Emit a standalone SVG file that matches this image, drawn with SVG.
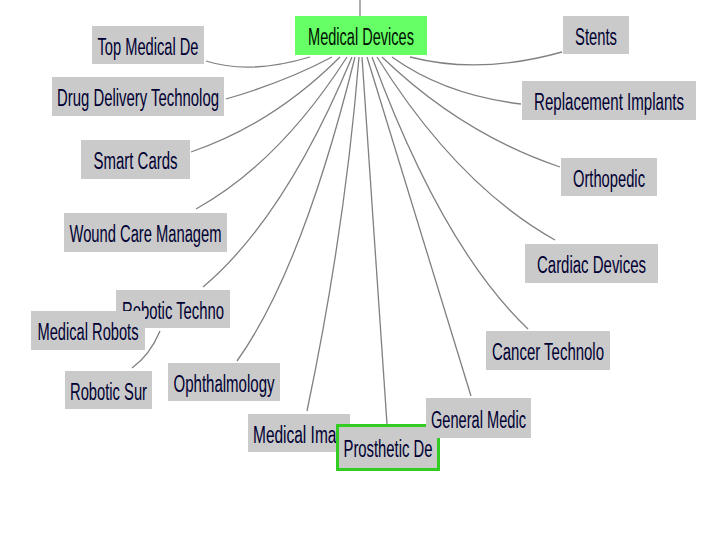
<svg xmlns="http://www.w3.org/2000/svg" width="720" height="540" viewBox="0 0 720 540">
<style>
.edge{fill:none;stroke:#808080;stroke-width:1.3}
.box{fill:#cacaca}
.root{fill:#66ff66}
.sel{fill:#cacaca;stroke:#33cc22;stroke-width:3}
.lbl{font-family:"Liberation Sans",Arial,sans-serif;font-size:23px;fill:#000033;text-anchor:middle}
</style>
<rect width="720" height="540" fill="#ffffff"/>
<g id="connectors">
<path class="edge" d="M360,0 L360,16"/>
<path class="edge" d="M310,57 Q250,75 206,61"/>
<path class="edge" d="M332,57 Q285,82 226,99"/>
<path class="edge" d="M340,57 Q273,124 191,152"/>
<path class="edge" d="M347,57 Q279,163 196,209"/>
<path class="edge" d="M352,57 Q285,218 203,287"/>
<path class="edge" d="M355,57 Q302,270 237,361"/>
<path class="edge" d="M359,57 Q345,230 307,411"/>
<path class="edge" d="M362,57 L387,424"/>
<path class="edge" d="M367,57 L471,396"/>
<path class="edge" d="M372,57 Q442,247 528,329"/>
<path class="edge" d="M377,57 Q457,185 555,240"/>
<path class="edge" d="M382,57 Q462,134 560,167"/>
<path class="edge" d="M392,57 Q445,95 521,104"/>
<path class="edge" d="M410,57 Q480,75 562,52"/>
<path class="edge" d="M160,331 Q150,355 132,368"/>
</g>
<g id="n-medical-devices"><rect class="root" x="295" y="16" width="132" height="39"/><text class="lbl" x="361" y="45" textLength="106" lengthAdjust="spacingAndGlyphs" style="fill:#001100">Medical Devices</text></g>
<g id="n-top-medical"><rect class="box" x="92" y="26" width="112" height="38"/><text class="lbl" x="148" y="54.5" textLength="101" lengthAdjust="spacingAndGlyphs">Top Medical De</text></g>
<g id="n-drug-delivery"><rect class="box" x="52" y="77" width="172" height="39"/><text class="lbl" x="138" y="106" textLength="162" lengthAdjust="spacingAndGlyphs">Drug Delivery Technolog</text></g>
<g id="n-smart-cards"><rect class="box" x="81" y="140" width="109" height="39"/><text class="lbl" x="135.5" y="169" textLength="84" lengthAdjust="spacingAndGlyphs">Smart Cards</text></g>
<g id="n-wound-care"><rect class="box" x="64" y="213" width="163" height="39"/><text class="lbl" x="145.5" y="242" textLength="152" lengthAdjust="spacingAndGlyphs">Wound Care Managem</text></g>
<g id="n-robotic-techno"><rect class="box" x="116" y="290" width="114" height="38"/><text class="lbl" x="173" y="318.5" textLength="102" lengthAdjust="spacingAndGlyphs">Robotic Techno</text></g>
<g id="n-medical-robots"><rect class="box" x="31" y="311" width="114" height="39"/><text class="lbl" x="88" y="340" textLength="101" lengthAdjust="spacingAndGlyphs">Medical Robots</text></g>
<g id="n-robotic-sur"><rect class="box" x="65" y="371" width="87" height="38"/><text class="lbl" x="108.5" y="399.5" textLength="77" lengthAdjust="spacingAndGlyphs">Robotic Sur</text></g>
<g id="n-ophthalmology"><rect class="box" x="168" y="363" width="112" height="38"/><text class="lbl" x="224" y="391.5" textLength="101" lengthAdjust="spacingAndGlyphs">Ophthalmology</text></g>
<g id="n-medical-imag"><rect class="box" x="248" y="414" width="102" height="38"/><text class="lbl" x="299" y="442.5" textLength="92" lengthAdjust="spacingAndGlyphs">Medical Imag</text></g>
<g id="n-prosthetic"><rect class="sel" x="337.5" y="425.5" width="101" height="44"/><text class="lbl" x="388" y="457" textLength="89" lengthAdjust="spacingAndGlyphs">Prosthetic De</text></g>
<g id="n-general-medic"><rect class="box" x="426" y="398" width="105" height="40"/><text class="lbl" x="478.5" y="427.5" textLength="95" lengthAdjust="spacingAndGlyphs">General Medic</text></g>
<g id="n-cancer"><rect class="box" x="486" y="331" width="124" height="39"/><text class="lbl" x="548" y="360" textLength="112" lengthAdjust="spacingAndGlyphs">Cancer Technolo</text></g>
<g id="n-cardiac"><rect class="box" x="525" y="244" width="133" height="39"/><text class="lbl" x="591.5" y="273" textLength="109" lengthAdjust="spacingAndGlyphs">Cardiac Devices</text></g>
<g id="n-orthopedic"><rect class="box" x="561" y="158" width="96" height="38"/><text class="lbl" x="609" y="186.5" textLength="72" lengthAdjust="spacingAndGlyphs">Orthopedic</text></g>
<g id="n-replacement"><rect class="box" x="522" y="81" width="174" height="39"/><text class="lbl" x="609" y="110" textLength="150" lengthAdjust="spacingAndGlyphs">Replacement Implants</text></g>
<g id="n-stents"><rect class="box" x="563" y="16" width="66" height="38"/><text class="lbl" x="596" y="44.5" textLength="42" lengthAdjust="spacingAndGlyphs">Stents</text></g>
</svg>
